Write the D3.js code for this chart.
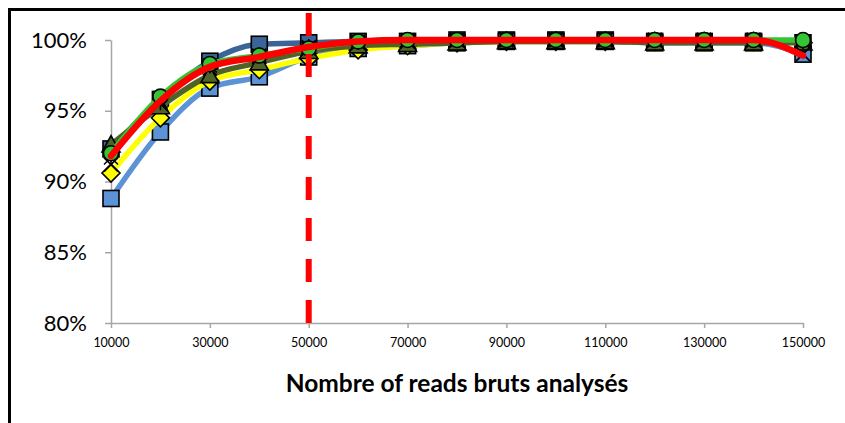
<!DOCTYPE html>
<html>
<head>
<meta charset="utf-8">
<script src="https://cdn.jsdelivr.net/npm/d3@7"></script>
<style>
  html, body { margin: 0; padding: 0; background: #fff; }
  svg { display: block; }
</style>
</head>
<body>
<svg id="chart" width="845" height="423"></svg>
<script>
// Number of raw reads analysed (x) and share of result recovered (%)
const reads = [10000, 20000, 30000, 40000, 50000, 60000, 70000, 80000, 90000, 100000, 110000, 120000, 130000, 140000, 150000];
const xTickValues = [10000, 30000, 50000, 70000, 90000, 110000, 130000, 150000];
const yTickValues = [80, 85, 90, 95, 100];

const sampleDarkBlue  = [92.3, 95.8, 98.5, 99.7, 99.8, 99.9, 99.9, 100, 100, 100, 100, 99.9, 99.9, 99.9, 99.8];
const sampleLightBlue = [88.8, 93.5, 96.6, 97.4, 98.8, 99.4, 99.6, 99.8, 99.9, 99.9, 99.9, 99.8, 99.8, 99.8, 99.0];
const sampleYellow    = [90.6, 94.5, 97.1, 97.9, 98.7, 99.3, 99.6, 99.8, 99.9, 99.9, 99.9, 99.9, 99.9, 99.9, 99.8];
const sampleOlive     = [92.6, 95.3, 97.5, 98.4, 99.2, 99.6, 99.7, 99.8, 99.9, 99.9, 99.9, 99.8, 99.8, 99.8, 99.8];
const sampleCross     = [91.2, 95.5, 98.0, 98.8, 99.4, 99.8, 99.9, 100, 100, 100, 100, 100, 100, 100, 99.0];
const sampleStar      = [91.7, 95.6, 98.2, 98.9, 99.5, 99.9, 100, 100, 100, 100, 100, 100, 100, 100, 99.9];
const sampleGreen     = [92.0, 96.0, 98.3, 98.9, 99.4, 99.9, 100, 100, 100, 100, 100, 100, 100, 100, 100];
const sampleRed       = [91.8, 95.7, 98.1, 98.8, 99.5, 99.9, 100, 100, 100, 100, 100, 100, 100, 100, 98.9];

const thresholdReads = 50000;

const series = [
  { values: sampleDarkBlue,  line: "#3A6596", fill: "#3A6596", marker: "square",   lw: 5.5 },
  { values: sampleLightBlue, line: "#5B93D6", fill: "#5B93D6", marker: "square",   lw: 5.5 },
  { values: sampleYellow,    line: "#FFFF00", fill: "#FFFF00", marker: "diamond",  lw: 5.5 },
  { values: sampleOlive,     line: "#4F6228", fill: "#4F6228", marker: "triangle", lw: 5.5 },
  { values: sampleCross,     line: null,      fill: null,      marker: "cross",    lw: 0 },
  { values: sampleStar,      line: null,      fill: null,      marker: "star",     lw: 0 },
  { values: sampleGreen,     line: "#33C633", fill: "#33C633", marker: "circle",   lw: 5.5 },
  { values: sampleRed,       line: "#FF0000", fill: null,      marker: null,       lw: 6.5 }
];

const svg = d3.select("#chart");

const x = d3.scaleLinear().domain([10000, 150000]).range([111, 803]);
const y = d3.scaleLinear().domain([80, 100]).range([323, 40]);

// outer frame
svg.append("rect")
  .attr("x", 9.5).attr("y", 9.5)
  .attr("width", 1000).attr("height", 1000)
  .attr("fill", "none").attr("stroke", "#000").attr("stroke-width", 3);

// y axis
const yAxis = svg.append("g")
  .attr("transform", `translate(${x(10000)},0)`)
  .call(d3.axisLeft(y).tickValues(yTickValues).tickSize(6).tickSizeOuter(0).tickPadding(18)
    .tickFormat(d => d + "%"));
yAxis.select(".domain").attr("stroke", "#A6A6A6").attr("stroke-width", 1.5);
yAxis.selectAll(".tick line").attr("stroke", "#A6A6A6").attr("stroke-width", 1.5);
yAxis.selectAll(".tick text")
  .attr("font-family", "Lato, 'Open Sans', sans-serif")
  .attr("font-size", 22).attr("fill", "#000");

// x axis
const xAxis = svg.append("g")
  .attr("transform", `translate(0,${y(80)})`)
  .call(d3.axisBottom(x).tickValues(xTickValues).tickSize(5).tickSizeOuter(0).tickPadding(10)
    .tickFormat(d3.format("d")));
xAxis.select(".domain").attr("stroke", "#A6A6A6").attr("stroke-width", 1.5);
xAxis.selectAll(".tick line").attr("stroke", "#A6A6A6").attr("stroke-width", 1.5);
xAxis.selectAll(".tick text")
  .attr("font-family", "Lato, 'Open Sans', sans-serif")
  .attr("font-size", 12.5).attr("fill", "#000");

// x axis title
svg.append("text")
  .attr("x", (x(10000) + x(150000)) / 2)
  .attr("y", 392)
  .attr("text-anchor", "middle")
  .attr("font-family", "Lato, 'Open Sans', sans-serif")
  .attr("font-weight", "bold")
  .attr("font-size", 24.5)
  .attr("fill", "#000")
  .text("Nombre of reads bruts analysés");

const line = d3.line()
  .x((d, i) => x(reads[i]))
  .y(d => y(d))
  .curve(d3.curveMonotoneX);

function drawMarker(g, kind, fill, cx, cy) {
  const s = 8;
  if (kind === "square") {
    g.append("rect").attr("x", cx - s).attr("y", cy - s).attr("width", 2 * s).attr("height", 2 * s)
      .attr("fill", fill).attr("stroke", "#000").attr("stroke-width", 1.6);
  } else if (kind === "diamond") {
    const r = 9;
    g.append("path").attr("d", `M${cx},${cy - r}L${cx + r},${cy}L${cx},${cy + r}L${cx - r},${cy}Z`)
      .attr("fill", fill).attr("stroke", "#000").attr("stroke-width", 1.6);
  } else if (kind === "triangle") {
    const r = 9;
    g.append("path").attr("d", `M${cx},${cy - r}L${cx + r},${cy + r * 0.8}L${cx - r},${cy + r * 0.8}Z`)
      .attr("fill", fill).attr("stroke", "#000").attr("stroke-width", 1.6);
  } else if (kind === "circle") {
    g.append("circle").attr("cx", cx).attr("cy", cy).attr("r", 7.5)
      .attr("fill", fill).attr("stroke", "#000").attr("stroke-width", 1.6);
  } else if (kind === "cross") {
    const r = 7;
    g.append("path").attr("d", `M${cx - r},${cy - r}L${cx + r},${cy + r}M${cx - r},${cy + r}L${cx + r},${cy - r}`)
      .attr("stroke", "#000").attr("stroke-width", 1.8).attr("fill", "none");
  } else if (kind === "star") {
    const r = 7;
    g.append("path").attr("d",
      `M${cx - r},${cy - r}L${cx + r},${cy + r}M${cx - r},${cy + r}L${cx + r},${cy - r}M${cx},${cy - r - 1}L${cx},${cy + r + 1}`)
      .attr("stroke", "#000").attr("stroke-width", 1.5).attr("fill", "none");
  }
}

const plot = svg.append("g");
series.forEach(s => {
  const g = plot.append("g");
  if (s.line) {
    g.append("path").datum(s.values).attr("d", line)
      .attr("fill", "none").attr("stroke", s.line).attr("stroke-width", s.lw)
      .attr("stroke-linejoin", "round").attr("stroke-linecap", "round");
  }
  if (s.marker) {
    s.values.forEach((v, i) => drawMarker(g, s.marker, s.fill, x(reads[i]), y(v)));
  }
});

// threshold at 50 000 reads (dashes laid from the axis upwards)
svg.append("line")
  .attr("x1", x(thresholdReads)).attr("x2", x(thresholdReads))
  .attr("y1", y(80)).attr("y2", 10)
  .attr("stroke", "#FF0000").attr("stroke-width", 6)
  .attr("stroke-dasharray", "23,18");
</script>
</body>
</html>
